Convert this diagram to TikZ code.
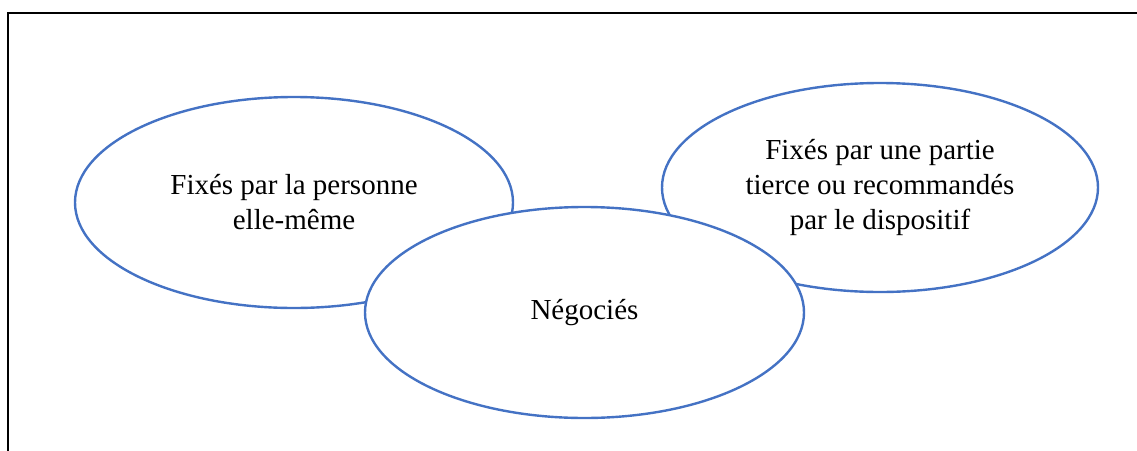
\documentclass[tikz,border=0pt]{standalone}
\usepackage{fontspec}
\setmainfont{Liberation Serif}
\usetikzlibrary{shapes.geometric}
\definecolor{ellblue}{RGB}{68,114,196}
\tikzset{
  bubble/.style={ellipse, draw=ellblue, line width=2.4pt, fill=white,
    inner sep=0pt, align=center, font=\fontsize{29}{35}\selectfont},
  frame/.style={draw=black, line width=2pt}
}
\begin{document}
\begin{tikzpicture}[x=1pt,y=-1pt]
\useasboundingbox (0,0) rectangle (1137,450);
\coordinate (fbl) at (8,452);
\coordinate (ftr) at (1139,13);
\draw[frame] (fbl) |- (ftr);
\node[bubble, minimum width=438pt, minimum height=211pt] (self) at (294,202.5)
  {Fixés par la personne\\elle-même};
\node[bubble, minimum width=436pt, minimum height=209pt] (tiers) at (880,187.5)
  {Fixés par une partie\\tierce ou recommandés\\par le dispositif};
\node[bubble, minimum width=439pt, minimum height=211pt] (nego) at (584.5,312.5)
  {Négociés};
\end{tikzpicture}
\end{document}
